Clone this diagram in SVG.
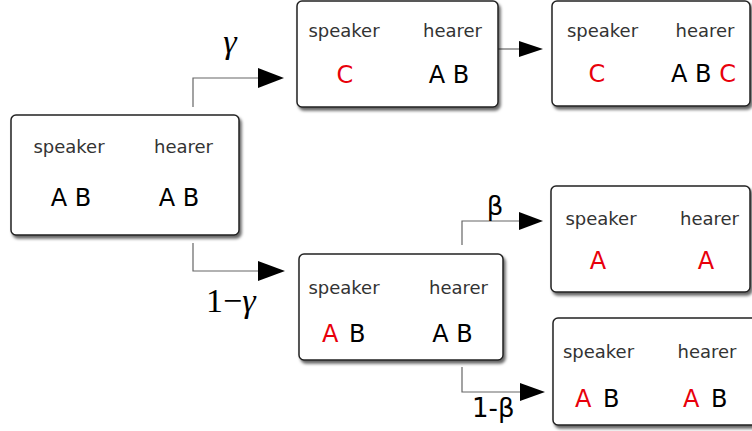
<svg xmlns="http://www.w3.org/2000/svg" width="752" height="431" viewBox="0 0 752 431">
<defs>
<filter id="sh" x="-10%" y="-10%" width="130%" height="130%">
<feDropShadow dx="2" dy="3" stdDeviation="1.6" flood-color="#000" flood-opacity="0.6"/>
</filter>
<style>
.box{fill:#fff;stroke:#222;stroke-width:1.5;filter:url(#sh)}
.lbl{font-family:"DejaVu Sans",sans-serif;font-size:18px;fill:#333;text-anchor:middle}
.val{font-family:"DejaVu Sans",sans-serif;font-size:24px;fill:#000}
.mid{text-anchor:middle}
.red{fill:#e8000b}
.con{fill:none;stroke:#666;stroke-width:1.2}
.ah{fill:#000}
.gm{font-family:"Liberation Serif",serif;font-size:34px;fill:#000}
.bt{font-family:"DejaVu Sans",sans-serif;font-size:26px;fill:#000}
</style>
</defs>
<rect width="752" height="431" fill="#fff"/>
<g id="connectors">
<path class="con" d="M193,107 V78 H260"/>
<polygon class="ah" points="258,68 284,78 258,88"/>
<path class="con" d="M498,49 H521"/>
<polygon class="ah" points="519,41 543,49 519,57"/>
<path class="con" d="M193,243 V271 H260"/>
<polygon class="ah" points="258,261 285,271 258,281"/>
<path class="con" d="M462,245 V221 H521"/>
<polygon class="ah" points="519,212 543,221 519,230"/>
<path class="con" d="M462,367 V392 H522"/>
<polygon class="ah" points="520,383 545,392 520,401"/>
<text class="gm" x="230" y="53" text-anchor="middle" font-style="italic">γ</text>
<text class="gm" x="206" y="312">1−<tspan font-style="italic">γ</tspan></text>
<text class="bt" x="495" y="215" text-anchor="middle">β</text>
<text class="bt" x="472" y="417">1-β</text>
</g>
<g id="root">
<rect class="box" x="11" y="115" width="228" height="120" rx="5"/>
<text class="lbl" x="69" y="153">speaker</text>
<text class="lbl" x="183.5" y="153">hearer</text>
<text class="val mid" x="71" y="206">A B</text>
<text class="val mid" x="179" y="206">A B</text>
</g>
<g id="gamma-result">
<rect class="box" x="297" y="1" width="201" height="106" rx="5"/>
<text class="lbl" x="344" y="37">speaker</text>
<text class="lbl" x="452.5" y="37">hearer</text>
<text class="val mid red" x="345" y="83">C</text>
<text class="val mid" x="449" y="83">A B</text>
</g>
<g id="gamma-next">
<rect class="box" x="552" y="1" width="198" height="105" rx="5"/>
<text class="lbl" x="602.5" y="37">speaker</text>
<text class="lbl" x="705" y="37">hearer</text>
<text class="val mid red" x="597" y="82">C</text>
<text class="val" x="671" y="82">A B <tspan class="red">C</tspan></text>
</g>
<g id="one-minus-gamma-result">
<rect class="box" x="299" y="254" width="204" height="106" rx="5"/>
<text class="lbl" x="344" y="294">speaker</text>
<text class="lbl" x="458.5" y="294">hearer</text>
<text class="val" x="322" y="342"><tspan class="red">A</tspan><tspan x="349">B</tspan></text>
<text class="val mid" x="452.5" y="342">A B</text>
</g>
<g id="beta-result">
<rect class="box" x="551" y="186" width="199" height="106" rx="5"/>
<text class="lbl" x="601" y="225">speaker</text>
<text class="lbl" x="709.5" y="225">hearer</text>
<text class="val mid red" x="598" y="269">A</text>
<text class="val mid red" x="706" y="269">A</text>
</g>
<g id="one-minus-beta-result">
<rect class="box" x="553" y="318" width="205" height="107" rx="5"/>
<text class="lbl" x="598.5" y="358">speaker</text>
<text class="lbl" x="707" y="358">hearer</text>
<text class="val" x="575" y="407"><tspan class="red">A</tspan><tspan x="603">B</tspan></text>
<text class="val" x="683" y="407"><tspan class="red">A</tspan><tspan x="711">B</tspan></text>
</g>
</svg>
